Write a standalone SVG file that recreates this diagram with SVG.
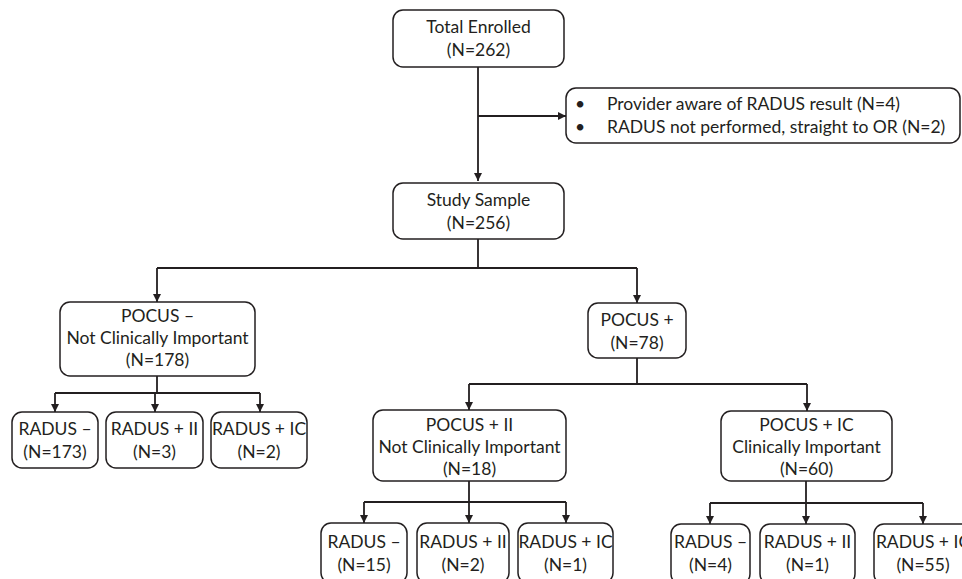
<svg xmlns="http://www.w3.org/2000/svg" width="962" height="579" viewBox="0 0 962 579">
<style>
.box{fill:#fff;stroke:#231f20;stroke-width:1.5}
.t{font-family:Lato,"Open Sans",sans-serif;font-size:17.5px;fill:#231f20;text-anchor:middle}
.l{font-family:Lato,"Open Sans",sans-serif;font-size:17.5px;fill:#231f20}
.c{fill:none;stroke:#231f20;stroke-width:1.8}
</style>
<defs>
<marker id="a" viewBox="0 0 10 10" refX="10" refY="5" markerWidth="4.5" markerHeight="4.5" orient="auto" markerUnits="strokeWidth">
<path d="M0,0L10,5L0,10z" fill="#231f20"/>
</marker>
</defs>
<rect width="962" height="579" fill="#fff"/>
<g id="connectors">
<path class="c" d="M478,67V181" marker-end="url(#a)"/>
<path class="c" d="M478,116H566" marker-end="url(#a)"/>
<path class="c" d="M478,239V268"/>
<path class="c" d="M157,268H637"/>
<path class="c" d="M157,268V302" marker-end="url(#a)"/>
<path class="c" d="M637,268V303" marker-end="url(#a)"/>
<path class="c" d="M157,376V393"/>
<path class="c" d="M55,393H260"/>
<path class="c" d="M55,393V412" marker-end="url(#a)"/>
<path class="c" d="M155,393V412" marker-end="url(#a)"/>
<path class="c" d="M260,393V412" marker-end="url(#a)"/>
<path class="c" d="M637,358V384"/>
<path class="c" d="M469,384H807"/>
<path class="c" d="M469,384V410" marker-end="url(#a)"/>
<path class="c" d="M807,384V411" marker-end="url(#a)"/>
<path class="c" d="M469,481V502"/>
<path class="c" d="M364,502H566"/>
<path class="c" d="M364,502V523" marker-end="url(#a)"/>
<path class="c" d="M469,502V523" marker-end="url(#a)"/>
<path class="c" d="M566,502V523" marker-end="url(#a)"/>
<path class="c" d="M806,481V503"/>
<path class="c" d="M710,503H923"/>
<path class="c" d="M710,503V524" marker-end="url(#a)"/>
<path class="c" d="M806,503V524" marker-end="url(#a)"/>
<path class="c" d="M923,503V524" marker-end="url(#a)"/>
</g>
<g id="total">
<rect class="box" x="393" y="10" width="171" height="57" rx="10"/>
<text class="t" x="478.5" y="33">Total Enrolled</text>
<text class="t" x="478.5" y="56">(N=262)</text>
</g>
<g id="excluded">
<rect class="box" x="566" y="88" width="394" height="55" rx="10"/>
<text class="l" x="575" y="110">•</text>
<text class="l" x="607" y="110">Provider aware of RADUS result (N=4)</text>
<text class="l" x="575" y="133">•</text>
<text class="l" x="607" y="133">RADUS not performed, straight to OR (N=2)</text>
</g>
<g id="study">
<rect class="box" x="393" y="183" width="171" height="56" rx="10"/>
<text class="t" x="478.5" y="206">Study Sample</text>
<text class="t" x="478.5" y="229">(N=256)</text>
</g>
<g id="pocusneg">
<rect class="box" x="60" y="302" width="195" height="74" rx="10"/>
<text class="t" x="157.5" y="322">POCUS –</text>
<text class="t" x="157.5" y="344">Not Clinically Important</text>
<text class="t" x="157.5" y="366">(N=178)</text>
</g>
<g id="lneg">
<rect class="box" x="12" y="412" width="86" height="56" rx="10"/>
<text class="t" x="55" y="435">RADUS –</text>
<text class="t" x="55" y="458">(N=173)</text>
</g>
<g id="lii">
<rect class="box" x="106" y="412" width="97" height="56" rx="10"/>
<text class="t" x="154.5" y="435">RADUS + II</text>
<text class="t" x="154.5" y="458">(N=3)</text>
</g>
<g id="lic">
<rect class="box" x="211" y="412" width="96" height="56" rx="10"/>
<text class="t" x="259" y="435">RADUS + IC</text>
<text class="t" x="259" y="458">(N=2)</text>
</g>
<g id="pocuspos">
<rect class="box" x="588" y="303" width="98" height="55" rx="10"/>
<text class="t" x="637" y="326">POCUS +</text>
<text class="t" x="637" y="349">(N=78)</text>
</g>
<g id="pocusii">
<rect class="box" x="373" y="410" width="193" height="71" rx="10"/>
<text class="t" x="469.5" y="431">POCUS + II</text>
<text class="t" x="469.5" y="453">Not Clinically Important</text>
<text class="t" x="469.5" y="475">(N=18)</text>
</g>
<g id="pocusic">
<rect class="box" x="721" y="411" width="171" height="70" rx="10"/>
<text class="t" x="806.5" y="431">POCUS + IC</text>
<text class="t" x="806.5" y="453">Clinically Important</text>
<text class="t" x="806.5" y="475">(N=60)</text>
</g>
<g id="mneg">
<rect class="box" x="321" y="523" width="86" height="60" rx="10"/>
<text class="t" x="364" y="548">RADUS –</text>
<text class="t" x="364" y="571">(N=15)</text>
</g>
<g id="mii">
<rect class="box" x="417" y="523" width="92" height="60" rx="10"/>
<text class="t" x="463" y="548">RADUS + II</text>
<text class="t" x="463" y="571">(N=2)</text>
</g>
<g id="mic">
<rect class="box" x="518" y="523" width="95" height="60" rx="10"/>
<text class="t" x="565.5" y="548">RADUS + IC</text>
<text class="t" x="565.5" y="571">(N=1)</text>
</g>
<g id="rneg">
<rect class="box" x="671" y="524" width="79" height="60" rx="10"/>
<text class="t" x="710.5" y="548">RADUS –</text>
<text class="t" x="710.5" y="571">(N=4)</text>
</g>
<g id="rii">
<rect class="box" x="760" y="524" width="95" height="60" rx="10"/>
<text class="t" x="807.5" y="548">RADUS + II</text>
<text class="t" x="807.5" y="571">(N=1)</text>
</g>
<g id="ric">
<rect class="box" x="874" y="524" width="100" height="60" rx="10"/>
<text class="t" x="923" y="548">RADUS + IC</text>
<text class="t" x="923" y="571">(N=55)</text>
</g>
</svg>
